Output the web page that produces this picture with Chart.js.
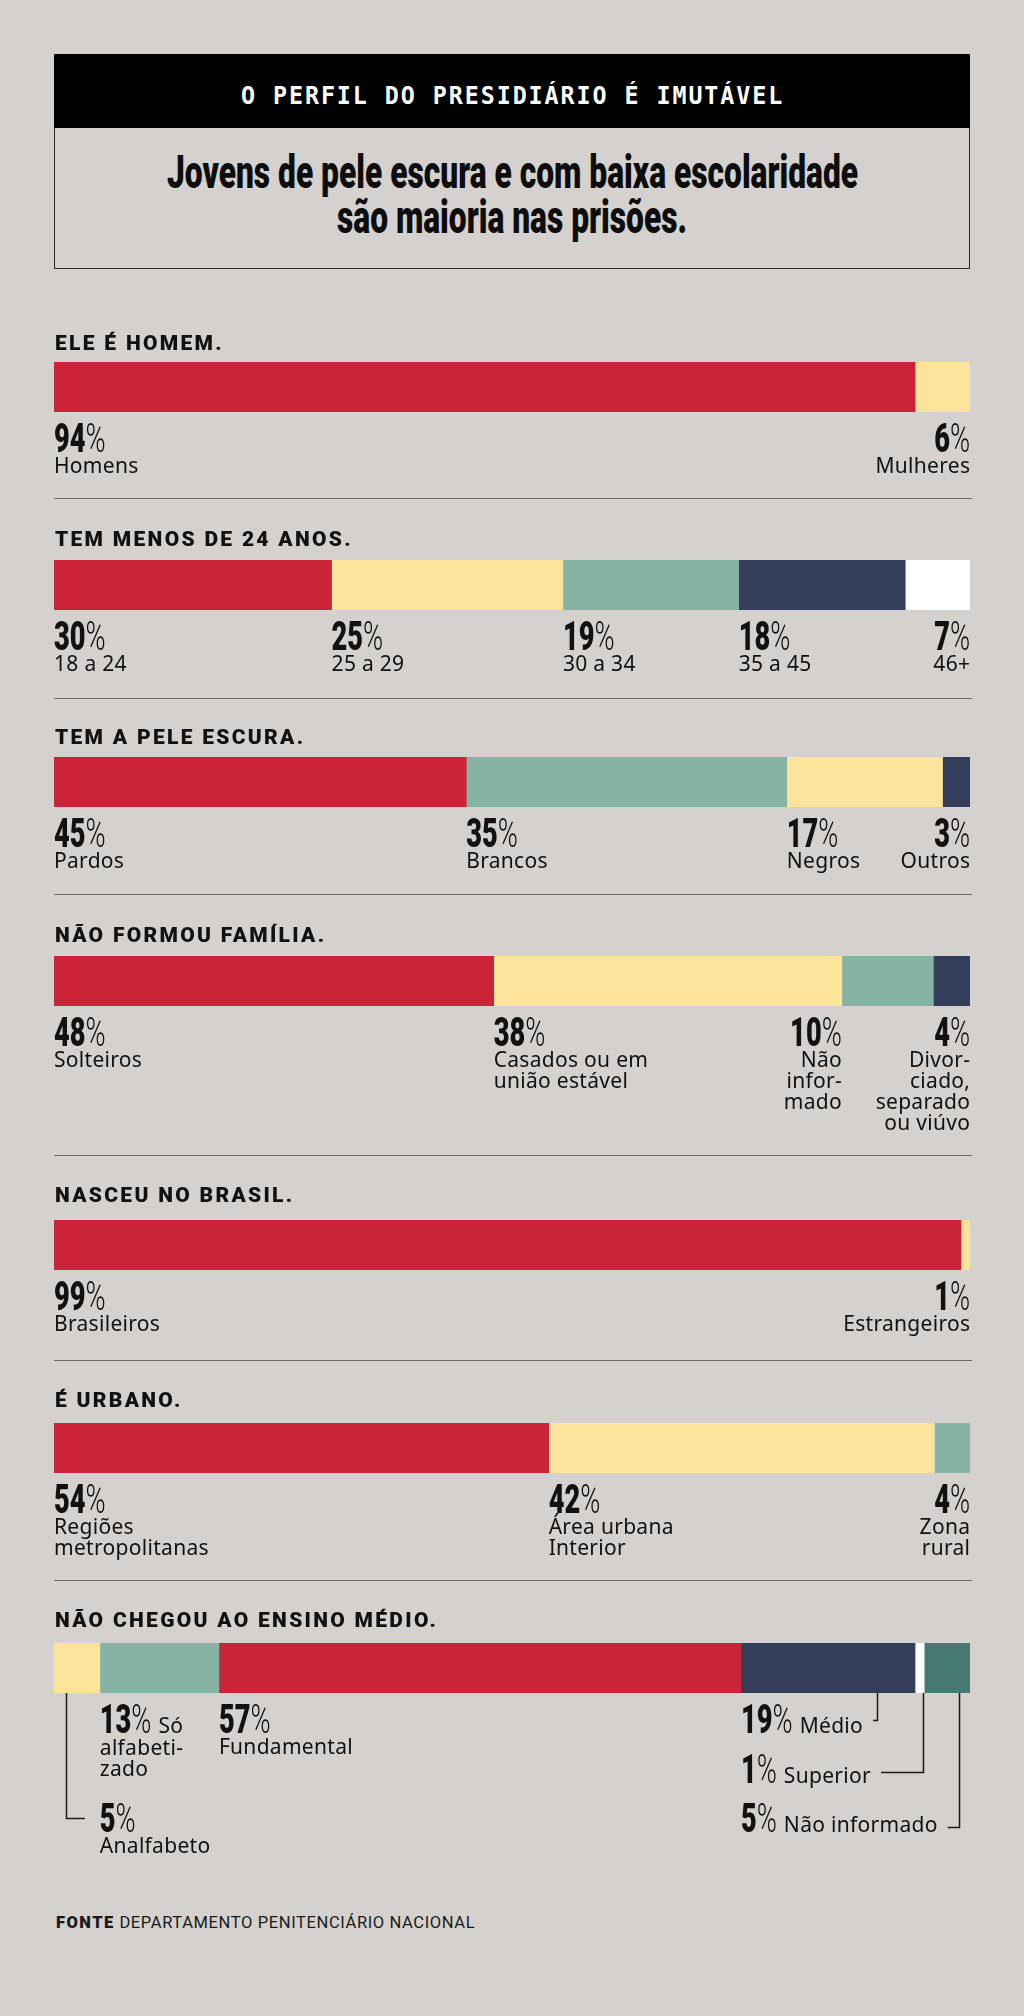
<!DOCTYPE html>
<html><head><meta charset="utf-8">
<script src="https://cdn.jsdelivr.net/npm/chart.js"></script>
<style>
html,body{margin:0;padding:0;background:#D4D1CE;}
body{width:1024px;height:2016px;position:relative;overflow:hidden;}
#topbar{position:absolute;left:54px;top:54px;width:916px;height:74px;background:#000;}
#topbox{position:absolute;left:54px;top:128px;width:914px;height:140px;border:1px solid #2a2a2a;border-top:none;}
.fit{position:absolute;white-space:nowrap;transform-origin:0 0;line-height:1.2;}
#kicker{font-family:"DejaVu Sans Mono";font-weight:bold;font-size:24px;letter-spacing:2px;color:#fff;}
#sub1,#sub2{font-family:Roboto;font-weight:900;font-size:47px;color:#0d0d0d;}
#fonte{font-family:Roboto;font-size:16px;letter-spacing:0.6px;color:#1a1a1a;}
#fonte b{font-weight:900;letter-spacing:1.4px;}
canvas{position:absolute;left:0;}
</style></head><body>
<div id="topbar"></div><div id="topbox"></div>
<div id="kicker" class="fit">O PERFIL DO PRESIDIÁRIO É IMUTÁVEL</div>
<div id="sub1" class="fit">Jovens de pele escura e com baixa escolaridade</div>
<div id="sub2" class="fit">são maioria nas prisões.</div>
<div id="fonte" class="fit"><b>FONTE</b> DEPARTAMENTO PENITENCIÁRIO NACIONAL</div>
<script>
// ---------- DATA ----------
const sectionTitles = ['ELE É HOMEM.', 'TEM MENOS DE 24 ANOS.', 'TEM A PELE ESCURA.', 'NÃO FORMOU FAMÍLIA.', 'NASCEU NO BRASIL.', 'É URBANO.', 'NÃO CHEGOU AO ENSINO MÉDIO.'];

const homemLabels = ['Homens', 'Mulheres'];
const homemValues = [94, 6];

const idadeLabels = ['18 a 24', '25 a 29', '30 a 34', '35 a 45', '46+'];
const idadeValues = [30, 25, 19, 18, 7];

const corLabels = ['Pardos', 'Brancos', 'Negros', 'Outros'];
const corValues = [45, 35, 17, 3];

const familiaLabels = ['Solteiros', 'Casados ou em\nunião estável', 'Não\ninfor-\nmado', 'Divor-\nciado,\nseparado\nou viúvo'];
const familiaValues = [48, 38, 10, 4];

const origemLabels = ['Brasileiros', 'Estrangeiros'];
const origemValues = [99, 1];

const zonaLabels = ['Regiões\nmetropolitanas', 'Área urbana\nInterior', 'Zona\nrural'];
const zonaValues = [54, 42, 4];

const escolaLabels = ['Analfabeto', 'Só\nalfabeti-\nzado', 'Fundamental', 'Médio', 'Superior', 'Não informado'];
const escolaValues = [5, 13, 57, 19, 1, 5];

// ---------- STYLES ----------
const BG = '#D4D1CE', RED = '#CB2337', YELLOW = '#FEE39B', TEAL = '#86B3A4', NAVY = '#343D5A', WHITE = '#FFFFFF', DKTEAL = '#467A70';
const homemColors = [RED, YELLOW];
const idadeColors = [RED, YELLOW, TEAL, NAVY, WHITE];
const corColors = [RED, TEAL, YELLOW, NAVY];
const familiaColors = [RED, YELLOW, TEAL, NAVY];
const origemColors = [RED, YELLOW];
const zonaColors = [RED, YELLOW, TEAL];
const escolaColors = [YELLOW, TEAL, RED, NAVY, WHITE, DKTEAL];

// label alignment: L = left at segment start, S = right at segment start, E = right at bar end
const homemAlign = ['L', 'E'];
const idadeAlign = ['L', 'L', 'L', 'L', 'E'];
const corAlign = ['L', 'L', 'L', 'E'];
const familiaAlign = ['L', 'L', 'S', 'E'];
const origemAlign = ['L', 'E'];
const zonaAlign = ['L', 'L', 'E'];

// last section layout (callouts)
const escolaAnchor = [1, 1, 2, 3, 3, 3];
const escolaRow = [139, 40, 40, 40, 90, 139];
const escolaInline = [false, true, false, true, true, true];
const escolaLeader = [{seg: 0, edge: 'start', dx: 12, y: 125, side: 'right'}, null, null,
  {seg: 3, edge: 'end', dx: -38, y: 27}, {seg: 4, edge: 'end', dx: -1, y: 79}, {seg: 5, edge: 'end', dx: -11, y: 134}];

// page layout
const PAGE_LEFT = 54, PAGE_RIGHT = 970, BAR_H = 50;
const sectionTops = [300, 498, 698, 894, 1155, 1360, 1580];
const sectionBottoms = [498, 698, 894, 1155, 1360, 1580, 1880];
const headBaselines = [350, 546, 744, 942, 1202, 1407, 1627];
const barTops = [362, 560, 757, 956, 1220, 1423, 1643];

const PCT_SX = 0.68;
const PCT_NUM = '900 40px Roboto';
const PCT_SIGN = '300 40px Roboto';
const LBL_FONT = '21px "Noto Sans"';
const LBL_SP = '0.3px';
const INK = '#111';

// ---------- HTML text placement ----------
function place(el, x, align, baseline, width, scale) {
  const m = document.createElement('span');
  m.style.cssText = 'display:inline-block;width:0;height:0;vertical-align:baseline;';
  el.appendChild(m);
  el.style.left = '0px'; el.style.top = '0px';
  const w = el.offsetWidth;
  const b = m.offsetTop;
  const s = width ? width / w : (scale || 1);
  el.style.transform = 'scaleX(' + s + ')';
  el.style.left = (align === 'center' ? x - w * s / 2 : x) + 'px';
  el.style.top = (baseline - b) + 'px';
  return s;
}
place(document.getElementById('kicker'), 512, 'center', 104, 543);
const subScale = place(document.getElementById('sub1'), 512, 'center', 188, 691);
place(document.getElementById('sub2'), 512, 'center', 233, null, subScale);
place(document.getElementById('fonte'), 56, 'left', 1928, 419);

// ---------- drawing helpers ----------
function pctWidth(ctx, num) {
  ctx.save();
  ctx.letterSpacing = '0px';
  ctx.font = PCT_NUM; const a = ctx.measureText(num).width;
  ctx.font = PCT_SIGN; const b = ctx.measureText('%').width;
  ctx.restore();
  return (a + b) * PCT_SX;
}
function drawPct(ctx, num, x, y) {
  ctx.save();
  ctx.letterSpacing = '0px';
  ctx.fillStyle = INK;
  ctx.textAlign = 'left'; ctx.textBaseline = 'alphabetic';
  ctx.translate(x, y); ctx.scale(PCT_SX, 1);
  ctx.font = PCT_NUM; ctx.fillText(num, 0, 0);
  const a = ctx.measureText(num).width;
  ctx.font = PCT_SIGN; ctx.fillText('%', a, 0);
  ctx.restore();
}
function txtWidth(ctx, t) {
  ctx.save(); ctx.font = LBL_FONT; ctx.letterSpacing = LBL_SP;
  const w = ctx.measureText(t).width; ctx.restore(); return w;
}
function drawTxt(ctx, t, x, y, rightAligned) {
  ctx.save(); ctx.font = LBL_FONT; ctx.letterSpacing = LBL_SP;
  ctx.fillStyle = INK; ctx.textAlign = 'left'; ctx.textBaseline = 'alphabetic';
  const w = ctx.measureText(t).width;
  ctx.fillText(t, rightAligned ? x - w + 0.3 : x, y);
  ctx.restore();
}

const sections = [
  {labels: homemLabels, values: homemValues, colors: homemColors, align: homemAlign},
  {labels: idadeLabels, values: idadeValues, colors: idadeColors, align: idadeAlign},
  {labels: corLabels, values: corValues, colors: corColors, align: corAlign},
  {labels: familiaLabels, values: familiaValues, colors: familiaColors, align: familiaAlign},
  {labels: origemLabels, values: origemValues, colors: origemColors, align: origemAlign},
  {labels: zonaLabels, values: zonaValues, colors: zonaColors, align: zonaAlign},
  {labels: escolaLabels, values: escolaValues, colors: escolaColors, align: null}
];

function annotPlugin(i, s) {
  return {
    id: 'annot' + i,
    afterDraw(chart) {
      const ctx = chart.ctx, xs = chart.scales.x;
      const top = sectionTops[i];
      const barBottom = barTops[i] + BAR_H - top;
      const starts = []; let acc = 0;
      s.values.forEach(v => { starts.push(acc); acc += v; });
      const segStart = j => xs.getPixelForValue(starts[j]);
      const segEnd = j => xs.getPixelForValue(starts[j] + s.values[j]);

      // heading
      ctx.save();
      ctx.font = '900 21px Roboto'; ctx.letterSpacing = '2.3px';
      ctx.fillStyle = INK; ctx.textAlign = 'left'; ctx.textBaseline = 'alphabetic';
      ctx.fillText(sectionTitles[i], PAGE_LEFT + 1, headBaselines[i] - top);
      ctx.restore();

      // separator
      if (i < sections.length - 1) {
        const y = sectionBottoms[i] - top + 0.5;
        ctx.save(); ctx.strokeStyle = '#6b6b6b'; ctx.lineWidth = 1.2;
        ctx.beginPath(); ctx.moveTo(PAGE_LEFT, y); ctx.lineTo(PAGE_RIGHT + 2, y); ctx.stroke();
        ctx.restore();
      }

      if (s.align) {
        s.values.forEach((v, j) => {
          const a = s.align[j];
          const num = String(v);
          const pw = pctWidth(ctx, num);
          let x, right = false;
          if (a === 'L') { x = segStart(j); }
          else if (a === 'S') { x = segStart(j); right = true; }
          else { x = PAGE_RIGHT; right = true; }
          drawPct(ctx, num, right ? x - pw : x, barBottom + 40);
          s.labels[j].split('\n').forEach((ln, k) => drawTxt(ctx, ln, x, barBottom + 61 + k * 21, right));
        });
      } else {
        s.values.forEach((v, j) => {
          const num = String(v);
          const x = segStart(escolaAnchor[j]);
          const yb = barBottom + escolaRow[j];
          const pw = pctWidth(ctx, num);
          drawPct(ctx, num, x, yb);
          const lines = s.labels[j].split('\n');
          let textEnd = x + pw;
          if (escolaInline[j]) {
            drawTxt(ctx, lines[0], x + pw + 7, yb, false);
            textEnd = x + pw + 7 + txtWidth(ctx, lines[0]);
            lines.slice(1).forEach((ln, k) => drawTxt(ctx, ln, x, yb + 22 + k * 21, false));
          } else {
            lines.forEach((ln, k) => drawTxt(ctx, ln, x, yb + 21 + k * 21, false));
          }
          const L = escolaLeader[j];
          if (L) {
            const lx = Math.round((L.edge === 'start' ? segStart(L.seg) : segEnd(L.seg)) + L.dx) + 0.5;
            const ly = Math.round(barBottom + L.y) + 0.5;
            const hx = L.side === 'right' ? x - 15 : textEnd + 10;
            ctx.save(); ctx.strokeStyle = '#1a1a1a'; ctx.lineWidth = 1.5;
            ctx.beginPath(); ctx.moveTo(lx, barBottom); ctx.lineTo(lx, ly); ctx.lineTo(hx, ly); ctx.stroke();
            ctx.restore();
          }
        });
      }
    }
  };
}

sections.forEach((s, i) => {
  const top = sectionTops[i];
  const h = sectionBottoms[i] - top + 2;
  const cv = document.createElement('canvas');
  cv.width = 1024; cv.height = h; cv.style.top = top + 'px';
  cv.style.width = '1024px'; cv.style.height = h + 'px';
  document.body.appendChild(cv);
  const sum = s.values.reduce((a, b) => a + b, 0);
  const padTop = barTops[i] - top;
  new Chart(cv, {
    type: 'bar',
    data: {
      labels: [sectionTitles[i]],
      datasets: s.values.map((v, j) => ({
        label: s.labels[j].replace(/\n/g, ' '),
        data: [v],
        backgroundColor: s.colors[j],
        borderWidth: (i === 5 && j === 2) ? {left: 2, right: 0, top: 0, bottom: 0} : 0,
        borderColor: BG,
        borderSkipped: false,
        barPercentage: 1,
        categoryPercentage: 1
      }))
    },
    options: {
      indexAxis: 'y', responsive: false, animation: false, devicePixelRatio: 1,
      layout: {padding: {left: PAGE_LEFT, right: 1024 - PAGE_RIGHT, top: padTop, bottom: h - padTop - BAR_H}},
      scales: {
        x: {stacked: true, min: 0, max: sum, display: false},
        y: {stacked: true, display: false}
      },
      plugins: {legend: {display: false}, tooltip: {enabled: false}, title: {display: false}}
    },
    plugins: [annotPlugin(i, s)]
  });
});
</script>
</body></html>
